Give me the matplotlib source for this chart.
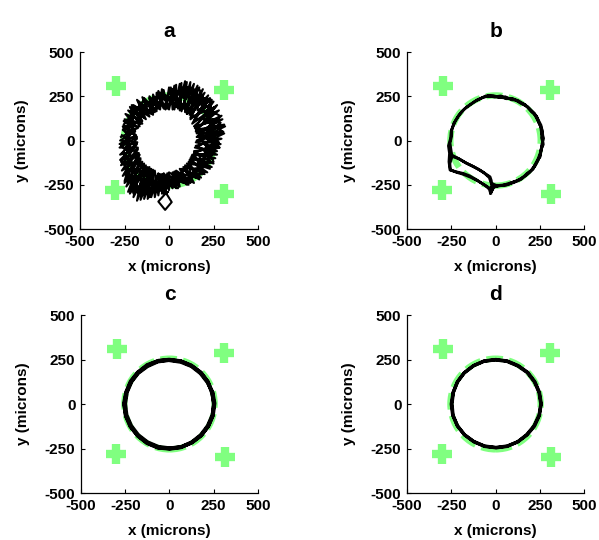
import matplotlib
matplotlib.use("Agg")
import matplotlib.pyplot as plt
from matplotlib.patches import Circle

plt.rcParams['font.family'] = ['Liberation Sans', 'DejaVu Sans']
plt.rcParams['font.weight'] = 'bold'

# ---------------- data ----------------
panel_titles = ["a", "b", "c", "d"]
tick_values = [-500, -250, 0, 250, 500]
tick_labels = ["-500", "-250", "0", "250", "500"]
x_label = "x (microns)"
y_label = "y (microns)"

marker_x = [-298, 309, -305, 311]
marker_y = [310, 288, -281, -300]
target_radius = 255

# panel a: noisy scribbled ring (several passes)
a_pts = [
    (-270, 20), (-190, 60), (-255, 110), (-160, 95), (-230, 170), (-140, 130), (-170, 220), (-100, 150),
    (-110, 250), (-60, 180), (-30, 285), (-10, 180), (40, 315), (40, 190), (100, 330), (80, 180),
    (170, 300), (110, 160), (230, 240), (140, 110), (280, 170), (150, 60), (310, 90), (160, 20),
    (295, 10), (150, -30), (270, -80), (130, -80), (230, -160), (110, -120), (170, -220), (70, -160),
    (100, -250), (20, -180), (20, -270), (-40, -190), (-60, -310), (-80, -170), (-140, -330), (-120, -150),
    (-220, -300), (-160, -110), (-260, -200), (-175, -50), (-275, -80), (-180, 10),
    (-240, 20), (-220, -40), (-250, -90), (-200, -130), (-230, -190), (-180, -230), (-200, -290),
    (-130, -260), (-110, -300), (-80, -230), (-30, -270), (-10, -210), (40, -240), (70, -200),
    (110, -220), (120, -160), (180, -170), (170, -110), (230, -100), (190, -50), (250, -20), (200, 20),
    (260, 70), (210, 110), (250, 160), (180, 170), (200, 230), (140, 220), (130, 290), (80, 240),
    (40, 280), (20, 220), (-40, 250), (-40, 200), (-100, 220), (-110, 170), (-170, 190), (-160, 130),
    (-220, 130), (-200, 80), (-250, 60),
    (-240, 50), (-175, 70), (-245, 150), (-150, 110), (-200, 200), (-120, 150), (-140, 240), (-70, 165),
    (-70, 270), (-30, 180), (10, 300), (20, 175), (70, 325), (60, 170), (140, 320), (100, 150),
    (200, 270), (120, 130), (260, 190), (140, 80), (300, 120), (155, 40), (305, 50), (150, -10),
    (285, -40), (140, -60), (250, -130), (120, -100), (200, -190), (90, -140), (140, -240), (40, -170),
    (60, -260), (-10, -185), (-20, -300), (-60, -185), (-100, -320), (-100, -160), (-180, -340), (-140, -130),
    (-240, -260), (-165, -80), (-270, -140), (-180, -20), (-278, -20), (-185, 30),
    (-255, 90), (-180, 180), (-140, 230), (-110, 200), (-60, 260), (-20, 240), (20, 290), (60, 260),
    (90, 310), (130, 280), (170, 290), (190, 240), (240, 230), (230, 170), (285, 140), (250, 90),
    (300, 50), (240, 20), (280, -40), (220, -60), (250, -120), (180, -130), (190, -190), (130, -190),
    (120, -240), (60, -220), (50, -270), (-10, -240), (-20, -290), (-80, -260), (-110, -320),
    (-140, -250), (-200, -300), (-200, -230), (-250, -230), (-230, -160), (-270, -120), (-230, -60),
    (-270, -30), (-230, 20),
    (-260, 80), (-165, 80), (-220, 190), (-130, 120), (-180, 230), (-90, 145), (-90, 260), (-50, 175),
    (-40, 290), (0, 175), (30, 310), (50, 180), (90, 335), (90, 160), (160, 310), (115, 145),
    (220, 255), (130, 95), (270, 200), (150, 50), (315, 80), (155, 0), (290, -20), (140, -70),
    (260, -100), (115, -110), (215, -180), (80, -150), (130, -235), (30, -175), (40, -270), (-30, -185),
    (-40, -300), (-5, -290), (-20, -300), (-60, -345), (-22, -392), (15, -348), (-15, -300),
    (-45, -285), (-60, -190),
    (-120, -330), (-110, -150), (-200, -320), (-150, -120), (-250, -240), (-170, -70), (-275, -110),
    (-178, -10), (-275, 0), (-190, 50),
    (-250, 120), (-150, 95), (-210, 200), (-110, 135), (-150, 245), (-80, 160), (-60, 280), (-20, 175),
    (0, 300), (30, 175), (60, 320), (70, 165), (120, 330), (100, 150), (190, 290), (120, 120),
    (250, 220), (145, 70), (295, 140), (155, 20), (310, 40), (145, -40), (270, -60), (125, -90),
    (240, -150), (100, -130), (180, -210), (60, -160), (110, -250), (0, -180), (0, -280), (-50, -190),
    (-80, -320), (-90, -165), (-160, -335), (-130, -140), (-230, -290), (-160, -100), (-265, -170),
    (-175, -40), (-278, -40), (-180, 20),
    (-230, 60), (-200, 130), (-170, 120), (-190, 190), (-130, 170), (-130, 220), (-80, 200), (-60, 250),
    (-10, 220), (20, 270), (60, 230), (100, 290), (120, 210), (170, 260), (160, 170), (230, 200),
    (190, 120), (270, 120), (200, 60), (260, 30), (200, -20), (240, -80), (170, -90), (200, -150),
    (130, -160), (150, -210), (80, -190), (80, -240), (20, -210), (0, -260), (-40, -230), (-80, -280),
    (-100, -210), (-150, -280), (-160, -190), (-220, -230), (-200, -150), (-250, -120), (-210, -60),
    (-250, -10), (-220, 30),
    (-260, 60), (-200, 110), (-215, 160), (-150, 150), (-160, 200), (-100, 190), (-110, 240), (-40, 210),
    (-50, 270), (30, 230), (10, 290), (90, 250), (80, 300), (150, 240), (140, 290), (200, 200),
    (230, 230), (220, 110), (290, 100), (210, 40), (280, -10), (200, -50), (230, -120), (160, -120),
    (180, -190), (110, -180), (120, -230), (50, -200), (40, -250), (-20, -220), (-20, -280), (-70, -240),
    (-100, -290), (-130, -220), (-170, -300), (-190, -200), (-240, -210), (-220, -110), (-260, -70),
    (-220, 0), (-265, 30),
]
a_x = [p[0] for p in a_pts]
a_y = [p[1] for p in a_pts]

# panel b: circle whose lower-left quarter is cut by two diagonal strands
b_pts = [
    (-40, 252), (-8, 246), (30, 252), (60, 236), (95, 238), (130, 220), (167, 203), (192, 176),
    (218, 152), (238, 115), (254, 82), (260, 43), (270, 12), (261, -27), (257, -58), (243, -97),
    (230, -128), (203, -167), (177, -193), (138, -222), (102, -238), (58, -252), (22, -256), (-18, -264),
    (-31, -270), (-70, -247), (-106, -223), (-145, -200), (-182, -186), (-225, -176), (-257, -167),
    (-263, -120), (-260, -72), (-266, -30), (-254, 12), (-251, 48), (-236, 97), (-217, 128), (-188, 167),
    (-162, 190), (-118, 220), (-92, 233), (-55, 252),
    (-15, 254), (22, 244), (55, 247), (92, 230), (125, 227), (162, 203), (188, 184), (220, 153),
    (236, 127), (257, 86), (263, 52), (260, 15), (270, -22), (256, -53), (252, -92), (230, -123),
    (212, -162), (178, -186), (147, -217), (103, -233), (67, -250), (23, -253), (-10, -264), (-28, -298),
    (-18, -276), (-22, -255), (-24, -226), (-31, -205), (-60, -186), (-88, -168), (-125, -147),
    (-163, -129), (-205, -104), (-247, -82), (-252, -50), (-257, -15), (-248, 25), (-247, 63),
    (-228, 107), (-207, 143), (-173, 180), (-142, 203), (-103, 230), (-72, 243), (-35, 252),
    (2, 246), (40, 242), (73, 238), (112, 230), (143, 210), (180, 192), (203, 163), (232, 137),
    (246, 98), (262, 64), (268, 23), (267, -12), (260, -47), (254, -78), (238, -117), (222, -146),
    (193, -180), (162, -203), (118, -230), (82, -240), (38, -254), (2, -253), (-25, -240), (-35, -210),
    (-65, -182), (-95, -163), (-130, -145), (-170, -125), (-210, -102), (-245, -90), (-258, -130),
    (-255, -165), (-220, -180), (-185, -190), (-140, -208), (-100, -228), (-60, -252), (-35, -275),
    (-28, -298),
]
b_x = [p[0] for p in b_pts]
b_y = [p[1] for p in b_pts]

# panel c: clean circle, several passes
c_x = [250, 242, 218, 178, 126, 66, 0, -64, -126, -178, -218, -244, -255, -248, -222, -180,
       -126, -64, 0, 66, 128, 180, 220, 246,
       255, 244, 214, 175, 124, 64, -4, -66, -124, -176, -214, -240, -250, -242, -216, -176,
       -124, -62, 4, 68, 126, 176, 216, 242,
       252, 240, 216, 176, 122, 62, -2, -62, -126, -180, -220, -246, -258, -246, -218,
       -178, -128, -66, 2, 64, 124, 178, 218, 244, 250]
c_y = [0, 64, 124, 176, 214, 240, 248, 242, 216, 176, 124, 64, 0, -66, -126, -178, -218,
       -244, -250, -242, -216, -176, -124, -64,
       4, 66, 122, 172, 212, 236, 246, 238, 212, 174, 126, 66, 2, -62, -122, -174, -214,
       -240, -248, -240, -214, -174, -122, -62,
       2, 62, 126, 178, 218, 242, 250, 244, 220, 178, 128, 66, 2, -66, -128, -180, -220,
       -246, -252, -244, -218, -178, -126, -66, 0]

# panel d: clean circle, several passes
d_x = [256, 246, 220, 180, 126, 64, -2, -66, -126, -178, -216, -240, -250, -242, -216,
       -176, -124, -62, 2, 66, 126, 178, 220, 248,
       258, 248, 222, 182, 128, 66, 2, -64, -124, -176, -214, -238, -246, -240, -214, -174,
       -122, -62, 4, 66, 126, 176, 218, 246, 256]
d_y = [0, 64, 124, 176, 214, 240, 248, 240, 214, 174, 124, 64, 0, -62, -122, -172, -210,
       -236, -244, -236, -212, -174, -124, -64,
       2, 66, 126, 178, 216, 242, 250, 242, 216, 176, 126, 66, 2, -64, -124, -174, -212,
       -238, -246, -238, -212, -172, -122, -62, 0]

panel_x = [a_x, b_x, c_x, d_x]
panel_y = [a_y, b_y, c_y, d_y]
panel_lw = [1.5, 2.0, 2.6, 2.4]

# ---------------- layout ----------------
fig = plt.figure(figsize=(5.99, 5.40), dpi=100)
positions = [
    [0.1336, 0.5759, 0.2972, 0.3278],
    [0.6795, 0.5759, 0.2955, 0.3278],
    [0.1352, 0.0870, 0.2955, 0.3296],
    [0.6795, 0.0870, 0.2955, 0.3296],
]
green = '#80FF80'

for i in range(4):
    ax = fig.add_axes(positions[i])
    ax.plot(marker_x, marker_y, linestyle='none', marker='+', markersize=14.5,
            markeredgewidth=6.0, color=green, zorder=1)
    circ = Circle((0, 0), target_radius, fill=False, edgecolor=green, linewidth=4.5,
                  linestyle=(0, (2.6, 1.0)), zorder=2)
    ax.add_patch(circ)
    ax.plot(panel_x[i], panel_y[i], color='black', linewidth=panel_lw[i], zorder=3)
    ax.set_xlim(-500, 500)
    ax.set_ylim(-500, 500)
    ax.set_xticks(tick_values)
    ax.set_xticklabels(tick_labels)
    ax.set_yticks(tick_values)
    ax.set_yticklabels(tick_labels)
    for s in ['top', 'right']:
        ax.spines[s].set_visible(False)
    for s in ['left', 'bottom']:
        ax.spines[s].set_linewidth(0.9)
    ax.tick_params(direction='in', length=3, width=0.8, labelsize=11, pad=4)
    for lab in ax.get_xticklabels() + ax.get_yticklabels():
        lab.set_fontweight('bold')
    ax.set_xlabel(x_label, fontsize=11, fontweight='bold', labelpad=8)
    ax.set_ylabel(y_label, fontsize=11, fontweight='bold', labelpad=11)
    ax.set_title(panel_titles[i], fontsize=15, fontweight='bold', pad=11)

fig.savefig('out.png', dpi=100)
